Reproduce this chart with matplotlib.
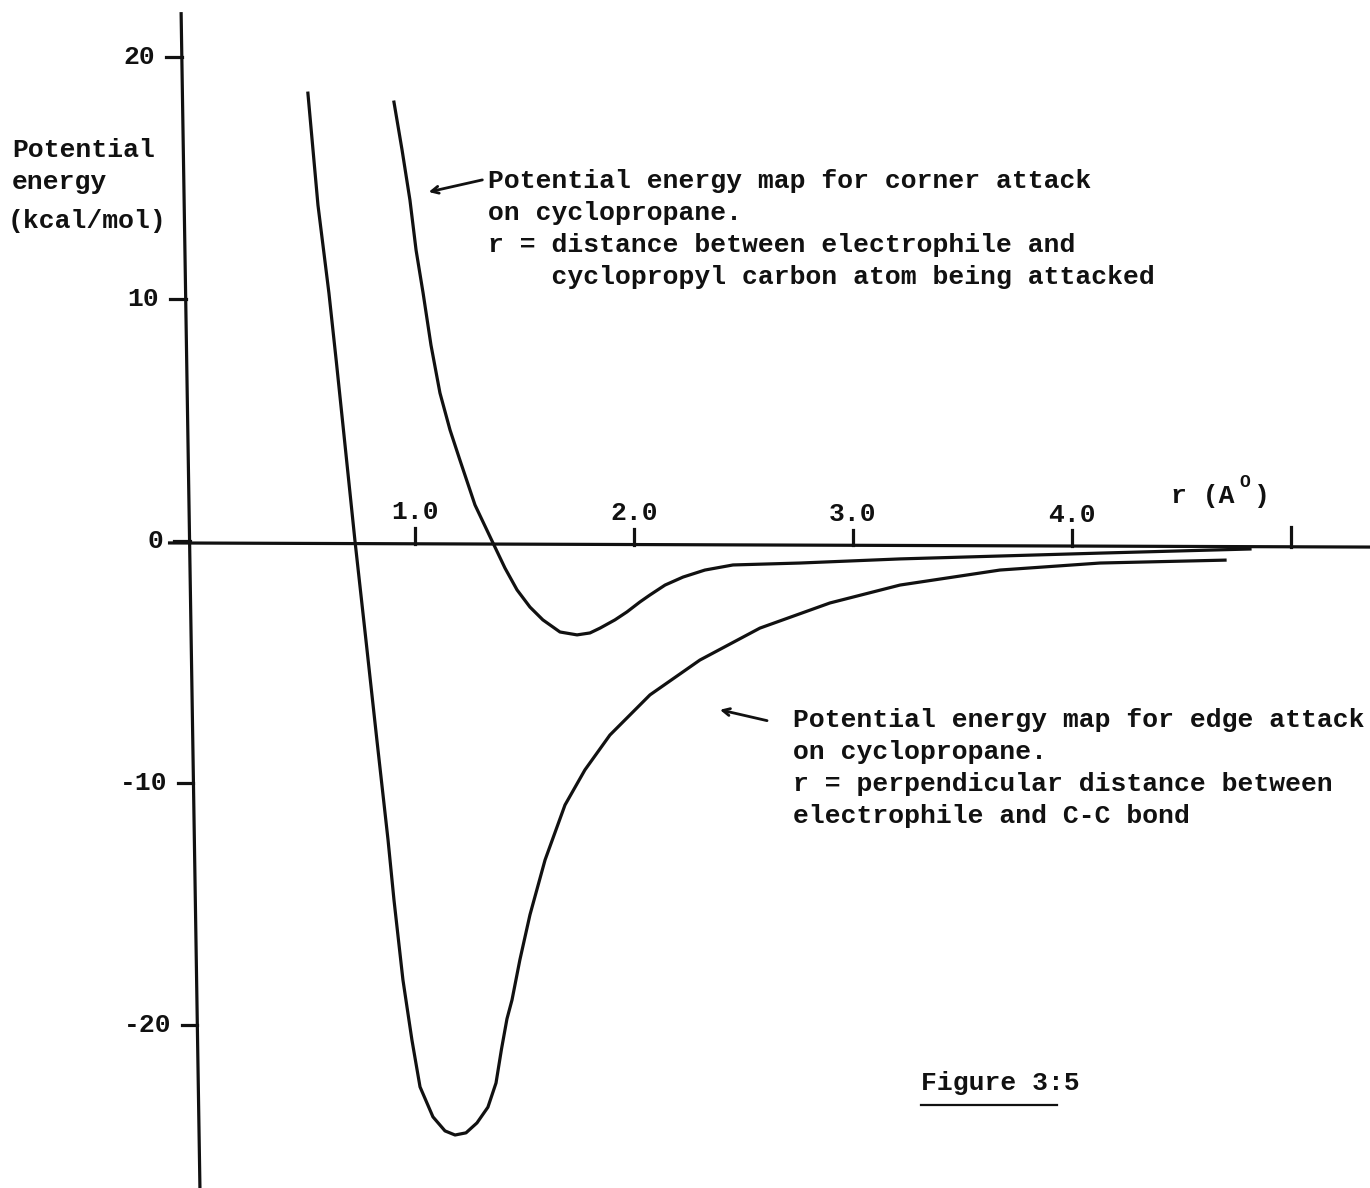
import matplotlib
matplotlib.use("Agg")
import matplotlib.pyplot as plt
import numpy as np

# Potential energy (kcal/mol) against r (Angstrom)
edge_r = [0.511, 0.557, 0.607, 0.641, 0.672, 0.726, 0.776, 0.826, 0.877, 0.904, 0.945,
          0.986, 1.023, 1.082, 1.137, 1.183, 1.233, 1.283, 1.333, 1.370, 1.395, 1.420,
          1.443, 1.479, 1.525, 1.594, 1.685, 1.776, 1.890, 2.073, 2.301, 2.575,
          2.895, 3.215, 3.671, 4.128, 4.699]
edge_e = [18.51, 13.88, 10.25, 7.40, 4.71, 0.00, -4.09, -8.22, -12.36, -14.83, -18.14,
          -20.62, -22.56, -23.80, -24.38, -24.55, -24.46, -24.05, -23.40, -22.40, -21.00,
          -19.75, -18.97, -17.31, -15.45, -13.18, -10.91, -9.46, -8.02, -6.36, -4.92, -3.60,
          -2.56, -1.82, -1.20, -0.91, -0.79]

corner_r = [0.904, 0.941, 0.977, 1.005, 1.037, 1.073, 1.114, 1.160, 1.205, 1.274,
            1.352, 1.411, 1.466, 1.525, 1.584, 1.662, 1.740, 1.799, 1.845, 1.913,
            1.968, 2.027, 2.073, 2.142, 2.224, 2.324, 2.452, 2.758, 3.215, 3.671,
            4.128, 4.813]
corner_e = [18.14, 16.16, 14.09, 12.02, 10.25, 8.10, 6.12, 4.59, 3.35, 1.49,
            0.00, -1.12, -2.02, -2.73, -3.26, -3.76, -3.88, -3.80, -3.60, -3.26,
            -2.93, -2.52, -2.23, -1.82, -1.49, -1.20, -0.99, -0.91, -0.74, -0.62,
            -0.50, -0.33]

x_ticks = [1.0, 2.0, 3.0, 4.0, 5.0]
x_tick_labels = ["1.0", "2.0", "3.0", "4.0", ""]
y_ticks = [20, 10, 0, -10, -20]
y_tick_labels = ["20", "10", "0", "-10", "-20"]

corner_note = ["Potential energy map for corner attack",
               "on cyclopropane.",
               "r = distance between electrophile and",
               "    cyclopropyl carbon atom being attacked"]
edge_note = ["Potential energy map for edge attack",
             "on cyclopropane.",
             "r = perpendicular distance between",
             "electrophile and C-C bond"]
y_title = ["Potential", "energy", "(kcal/mol)"]

FONT = "Liberation Mono"
FS = 19
WT = "bold"
INK = "#111111"
LW = 2.3

fig = plt.figure(figsize=(13.7, 11.88), dpi=100)
ax = fig.add_axes([0, 0, 1, 1])
ax.set_xlim(-0.895, 5.361)
ax.set_ylim(-26.74, 22.36)
ax.axis("off")


def put(x, y, s, **kw):
    opts = dict(ha="left", va="center", fontsize=FS, family=FONT,
                weight=WT, color=INK)
    opts.update(kw)
    ax.text(x, y, s, **opts)


# hand-ruled axes
ax.plot([-0.068, 0.018], [21.86, -26.74], color=INK, lw=LW, solid_capstyle="butt")
ax.plot([-0.128, 5.361], [-0.08, -0.25], color=INK, lw=LW, solid_capstyle="butt")


def axis_y_at(r):
    return -0.08 + (r + 0.128) * (-0.17 / 5.489)


def vaxis_x_at(e):
    return -0.068 + (21.86 - e) * (0.086 / 48.6)


for t, lab in zip(x_ticks, x_tick_labels):
    y0 = axis_y_at(t)
    h = 0.8 if lab == "" else 0.65
    ax.plot([t, t], [y0, y0 + h], color=INK, lw=LW)
    if lab:
        put(t, y0 + 1.3, lab, ha="center")

for t, lab in zip(y_ticks, y_tick_labels):
    x0 = vaxis_x_at(t)
    ax.plot([x0 - 0.07, x0], [t, t], color=INK, lw=LW)
    put(x0 - 0.12, t, lab, ha="right")

# curves
ax.plot(edge_r, edge_e, color=INK, lw=LW, solid_joinstyle="round")
ax.plot(corner_r, corner_e, color=INK, lw=LW, solid_joinstyle="round")

# axis titles
for s, x, y in zip(y_title, [-0.84, -0.84, -0.86], [16.16, 14.83, 13.22]):
    put(x, y, s)
put(4.45, 1.85, "r (A")
put(4.765, 2.40, "O", fontsize=13)
put(4.83, 1.85, ")")

# annotations
for i, s in enumerate(corner_note):
    put(1.334, 14.88 - 1.32 * i, s)
ax.annotate("", xy=(1.05, 14.4), xytext=(1.32, 14.95),
            arrowprops=dict(arrowstyle="->,head_length=0.5,head_width=0.25",
                            color=INK, lw=2.0))

for i, s in enumerate(edge_note):
    put(2.725, -7.40 - 1.32 * i, s)
ax.annotate("", xy=(2.38, -6.95), xytext=(2.62, -7.45),
            arrowprops=dict(arrowstyle="->,head_length=0.5,head_width=0.25",
                            color=INK, lw=2.0))

put(3.31, -22.4, "Figure 3:5")
ax.plot([3.31, 3.93], [-23.3, -23.3], color=INK, lw=1.6)

fig.savefig("out.png", dpi=100, facecolor="white")
